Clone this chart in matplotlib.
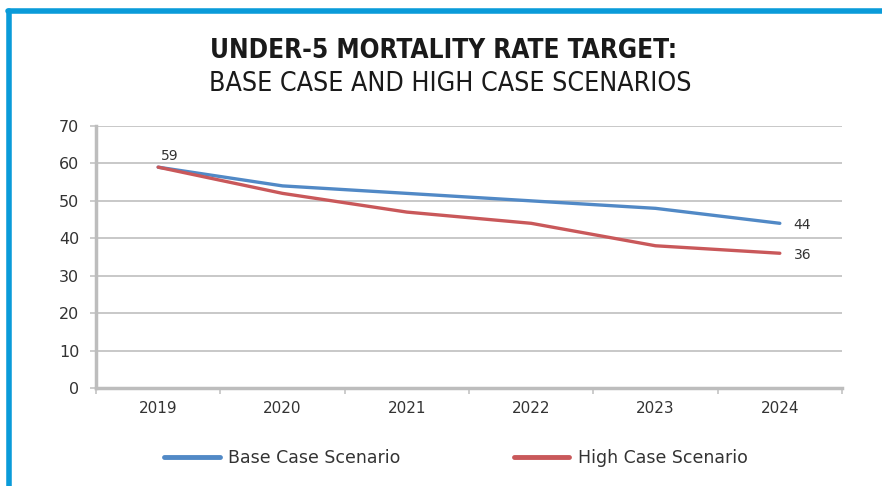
import matplotlib.pyplot as plt
from matplotlib.lines import Line2D
from matplotlib.ticker import FixedLocator

years = ["2019", "2020", "2021", "2022", "2023", "2024"]
base_case = [59, 54, 52, 50, 48, 44]
high_case = [59, 52, 47, 44, 38, 36]
series_names = ["Base Case Scenario", "High Case Scenario"]

blue = "#5189c6"
red = "#c9585a"
grid_gray = "#c4c4c4"
text_col = "#333333"

fig = plt.figure(figsize=(8.82, 4.86), dpi=100)

# blue frame (top and left edges)
fig.add_artist(Line2D([0.0095, 1.0], [1 - 11.5 / 486, 1 - 11.5 / 486],
                      transform=fig.transFigure, color="#0a9bd9", lw=4, solid_capstyle="round"))
fig.add_artist(Line2D([9 / 882, 9 / 882], [1 - 11.5 / 486, 0.0],
                      transform=fig.transFigure, color="#0a9bd9", lw=4, solid_capstyle="round"))

fig.text(0.503, 1 - 51 / 486, "UNDER-5 MORTALITY RATE TARGET:", ha="center", va="center",
         fontsize=18.8, fontweight="bold", family="DejaVu Sans", fontstretch="condensed",
         color="#1a1a1a")
fig.text(0.511, 1 - 84 / 486, "BASE CASE AND HIGH CASE SCENARIOS", ha="center", va="center",
         fontsize=19.2, fontweight="light", family="DejaVu Sans", fontstretch="condensed",
         color="#1a1a1a")

ax = fig.add_axes([96 / 882, 1 - 388 / 486, (842 - 96) / 882, (388 - 126) / 486])
x = list(range(len(years)))
ax.plot(x, base_case, color=blue, lw=2.4, solid_capstyle="round")
ax.plot(x, high_case, color=red, lw=2.4, solid_capstyle="round")

ax.set_xlim(-0.5, len(years) - 0.5)
ax.set_ylim(0, 70)
ax.set_yticks(range(0, 71, 10))
ax.set_xticks(x)
ax.set_xticklabels(years)
ax.xaxis.set_minor_locator(FixedLocator([i - 0.5 for i in range(len(years) + 1)]))
ax.tick_params(axis="x", which="major", length=0, pad=9, labelsize=11, labelcolor=text_col)
ax.tick_params(axis="x", which="minor", length=4, color=grid_gray, width=1.2)
ax.tick_params(axis="y", length=4, color=grid_gray, width=1.2, pad=8, labelsize=11.5, labelcolor=text_col)
ax.grid(axis="y", color=grid_gray, lw=1.3)
ax.set_axisbelow(True)
for side in ["top", "right"]:
    ax.spines[side].set_visible(False)
ax.spines["left"].set_color("#bdbdbd")
ax.spines["left"].set_linewidth(2.5)
ax.spines["bottom"].set_color("#bdbdbd")
ax.spines["bottom"].set_linewidth(2.5)

ax.annotate(str(base_case[0]), (0, base_case[0]), xytext=(8, 3), textcoords="offset points",
            ha="center", va="bottom", fontsize=10, color=text_col)
ax.annotate(str(base_case[-1]), (5, base_case[-1]), xytext=(10, -1), textcoords="offset points",
            ha="left", va="center", fontsize=10, color=text_col)
ax.annotate(str(high_case[-1]), (5, high_case[-1]), xytext=(10, -1), textcoords="offset points",
            ha="left", va="center", fontsize=10, color=text_col)

handles = [Line2D([], [], color=blue, lw=3.5, solid_capstyle="round"),
           Line2D([], [], color=red, lw=3.5, solid_capstyle="round")]
fig.legend(handles, series_names, loc="center", bbox_to_anchor=(0.517, 1 - 458 / 486), ncol=2,
           frameon=False, fontsize=12.5, handlelength=3.2, columnspacing=6.5, handletextpad=0.5,
           labelcolor=text_col)

fig.savefig("out.png", dpi=100)
